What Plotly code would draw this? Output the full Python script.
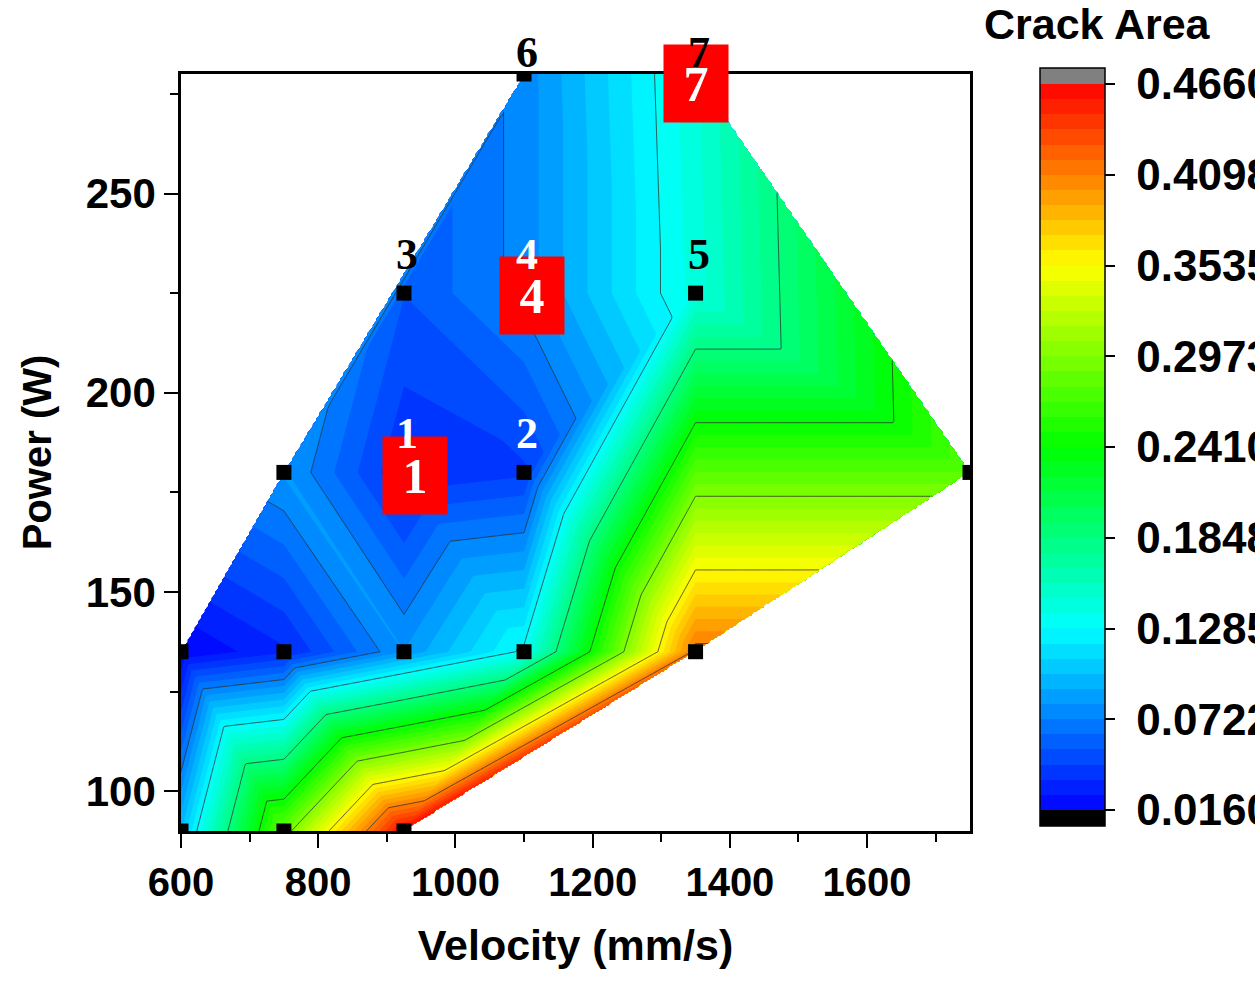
import numpy as np
import plotly.graph_objects as go
from plotly.colors import sample_colorscale

# Measured process points: scan velocity (mm/s), laser power (W), crack area
velocity = [600, 750, 925, 600, 750, 925, 1100, 1350, 750, 925, 1100, 1750, 925, 1100, 1350, 1100, 1350]
power = [90, 90, 90, 135, 135, 135, 135, 135, 180, 180, 180, 180, 225, 225, 225, 280, 280]
crack_area = [0.100, 0.286, 0.466, 0.016, 0.033, 0.082, 0.132, 0.416, 0.083,
              0.035, 0.042, 0.279, 0.054, 0.076, 0.142, 0.076, 0.145]

# Numbered samples
sample_ids = ["1", "2", "3", "4", "5", "6", "7"]
sample_velocity = [925, 1100, 925, 1100, 1350, 1100, 1350]
sample_power = [180, 180, 225, 225, 225, 280, 280]
sample_label_color = ["white", "white", "black", "white", "black", "black", "black"]
highlighted = ["1", "4", "7"]

# Colour bar ticks
cbar_ticks = [0.0160, 0.0722, 0.1285, 0.1848, 0.2410, 0.2973, 0.3535, 0.4098, 0.4660]
cbar_ticktext = ["0.0160", "0.0722", "0.1285", "0.1848", "0.2410", "0.2973", "0.3535", "0.4098", "0.4660"]

RAINBOW = [[0.0, "rgb(0,0,255)"], [0.25, "rgb(0,255,255)"], [0.5, "rgb(0,255,0)"],
           [0.75, "rgb(255,255,0)"], [1.0, "rgb(255,0,0)"]]

px = np.array(velocity, float)
py = np.array(power, float)
pz = np.array(crack_area, float)
x_lo, x_hi = 600.0, 1750.0
y_lo, y_hi = 90.0, 280.0


def delaunay(xs, ys):
    """Brute-force Delaunay triangulation (few points), on range-normalised
    coordinates with a slight shear to break ties on rectangular cells."""
    u = (xs - x_lo) / (x_hi - x_lo)
    v = (ys - y_lo) / (y_hi - y_lo)
    u = u + 0.02 * v
    n = len(u)
    tris = []
    for i in range(n):
        for j in range(i + 1, n):
            for k in range(j + 1, n):
                ax, ay, bx, by, cx, cy = u[i], v[i], u[j], v[j], u[k], v[k]
                d = 2 * (ax * (by - cy) + bx * (cy - ay) + cx * (ay - by))
                if abs(d) < 1e-12:
                    continue
                a2, b2, c2 = ax * ax + ay * ay, bx * bx + by * by, cx * cx + cy * cy
                ux = (a2 * (by - cy) + b2 * (cy - ay) + c2 * (ay - by)) / d
                uy = (a2 * (cx - bx) + b2 * (ax - cx) + c2 * (bx - ax)) / d
                r2 = (ax - ux) ** 2 + (ay - uy) ** 2
                ok = True
                for m in range(n):
                    if m in (i, j, k):
                        continue
                    if (u[m] - ux) ** 2 + (v[m] - uy) ** 2 < r2 * (1 - 1e-9):
                        ok = False
                        break
                if ok:
                    tris.append((i, j, k))
    return tris


# Linear interpolation on the triangulated surface, blank outside the hull
gx = np.linspace(x_lo, x_hi, 461)
gy = np.linspace(y_lo, y_hi, 381)
GX, GY = np.meshgrid(gx, gy)
Z = np.full(GX.shape, np.nan)
for i, j, k in delaunay(px, py):
    x1, y1, x2, y2, x3, y3 = px[i], py[i], px[j], py[j], px[k], py[k]
    det = (y2 - y3) * (x1 - x3) + (x3 - x2) * (y1 - y3)
    l1 = ((y2 - y3) * (GX - x3) + (x3 - x2) * (GY - y3)) / det
    l2 = ((y3 - y1) * (GX - x3) + (x1 - x3) * (GY - y3)) / det
    l3 = 1 - l1 - l2
    eps = 1e-9
    inside = (l1 >= -eps) & (l2 >= -eps) & (l3 >= -eps) & np.isnan(Z)
    Z[inside] = (l1 * pz[i] + l2 * pz[j] + l3 * pz[k])[inside]

z_min, z_max = float(pz.min()), float(pz.max())
n_fill = 48
n_major = 8
fill_step = (z_max - z_min) / n_fill
line_step = (z_max - z_min) / n_major

fig = go.Figure()

# filled bands
fig.add_trace(go.Contour(
    x=gx, y=gy, z=Z, zmin=z_min, zmax=z_max, autocontour=False,
    contours=dict(start=z_min, end=z_max, size=fill_step, coloring="fill", showlines=False),
    colorscale=RAINBOW, showscale=False, line=dict(width=0), connectgaps=False,
    hoverinfo="skip",
))

# contour lines at the major levels
fig.add_trace(go.Contour(
    x=gx, y=gy, z=Z, autocontour=False,
    contours=dict(start=z_min + line_step, end=z_max - line_step * 0.5, size=line_step,
                  coloring="none", showlines=True),
    line=dict(color="rgba(45,45,45,0.85)", width=0.9), showscale=False,
    connectgaps=False, hoverinfo="skip",
))

# measured points
fig.add_trace(go.Scatter(
    x=velocity, y=power, mode="markers",
    marker=dict(symbol="square", size=15, color="black"),
    hoverinfo="skip", showlegend=False,
))

# colour bar with under/over boxes
pad = (z_max - z_min) * 16 / 726
c_lo, c_hi = z_min - pad, z_max + pad
span = c_hi - c_lo
band_cols = sample_colorscale(RAINBOW, [(b + 0.5) / n_fill for b in range(n_fill)])
stepped = [[0.0, "black"], [pad / span, "black"]]
for b, col in enumerate(band_cols):
    lo = (pad + b * fill_step) / span
    hi = (pad + (b + 1) * fill_step) / span
    stepped.append([lo, col])
    stepped.append([min(hi, 1.0), col])
stepped.append([(pad + n_fill * fill_step) / span, "rgb(128,128,128)"])
stepped.append([1.0, "rgb(128,128,128)"])

plot_l, plot_r, plot_t, plot_b = 181, 970, 74, 831
pw, ph = plot_r - plot_l, plot_b - plot_t

fig.add_trace(go.Scatter(
    x=[None], y=[None], mode="markers", hoverinfo="skip", showlegend=False,
    marker=dict(color=[z_min], colorscale=stepped, cmin=c_lo, cmax=c_hi, showscale=True,
                colorbar=dict(
                    x=(1040 - plot_l) / pw, xanchor="left", xpad=0, ypad=0,
                    y=1 + (plot_t - 68) / ph, yanchor="top",
                    len=758, lenmode="pixels", thickness=65, thicknessmode="pixels",
                    outlinewidth=1.5, outlinecolor="black",
                    tickmode="array", tickvals=cbar_ticks,
                    ticktext=["\u00a0" + t for t in cbar_ticktext],
                    ticks="outside", ticklen=10, tickwidth=2, tickcolor="black",
                    tickfont=dict(family="Liberation Sans, Arial", size=44, color="black",
                                  weight="bold"),
                )),
))

serif = "Liberation Serif, Times New Roman, serif"
box_offset = {"1": (11, -3), "4": (8, -2), "7": (0, -9)}
annotations = []
for sid, v, p in zip(sample_ids, sample_velocity, sample_power):
    if sid in highlighted:
        dx, dy = box_offset[sid]
        annotations.append(dict(
            x=v, y=p, text=sid, showarrow=False, xshift=dx, yshift=dy,
            width=64, height=77, borderpad=0, bgcolor="red", align="center", valign="middle",
            font=dict(family=serif, size=50, color="white", weight="bold"),
        ))
for sid, v, p, col in zip(sample_ids, sample_velocity, sample_power, sample_label_color):
    lift = 22 if p == max(power) else 39
    annotations.append(dict(
        x=v, y=p, text=sid, showarrow=False, xshift=3, yshift=lift,
        font=dict(family=serif, size=44, color=col, weight="bold"),
    ))
annotations.append(dict(
    xref="paper", yref="paper", x=(1097 - plot_l) / pw, y=1 + (plot_t - 24) / ph,
    text="Crack Area", showarrow=False, xanchor="center", yanchor="middle",
    font=dict(family="Liberation Sans, Arial", size=43, color="black", weight="bold"),
))

axis_common = dict(
    showgrid=False, zeroline=False, linecolor="black", linewidth=2.5, mirror=True,
    ticks="outside", tickcolor="black", tickwidth=2, ticklen=14,
)
fig.update_xaxes(
    range=[x_lo, x_hi], tick0=600, dtick=200, **axis_common,
    minor=dict(ticks="outside", dtick=100, tick0=600, ticklen=8, tickwidth=2, tickcolor="black"),
    tickfont=dict(family="Liberation Sans, Arial", size=40, color="black", weight="bold"),
    title=dict(text="Velocity (mm/s)", standoff=28,
               font=dict(family="Liberation Sans, Arial", size=43, color="black", weight="bold")),
)
fig.update_yaxes(
    range=[y_lo, y_hi], tick0=0, dtick=50, **axis_common,
    minor=dict(ticks="outside", dtick=25, tick0=0, ticklen=8, tickwidth=2, tickcolor="black"),
    tickfont=dict(family="Liberation Sans, Arial", size=42, color="black", weight="bold"),
    title=dict(text="Power (W)", standoff=22,
               font=dict(family="Liberation Sans, Arial", size=40, color="black", weight="bold")),
)
fig.update_layout(
    width=1255, height=981,
    margin=dict(l=plot_l, r=1255 - plot_r, t=plot_t, b=981 - plot_b, autoexpand=False),
    plot_bgcolor="white", paper_bgcolor="white", showlegend=False,
    annotations=annotations,
)

fig.write_html("out.html")
